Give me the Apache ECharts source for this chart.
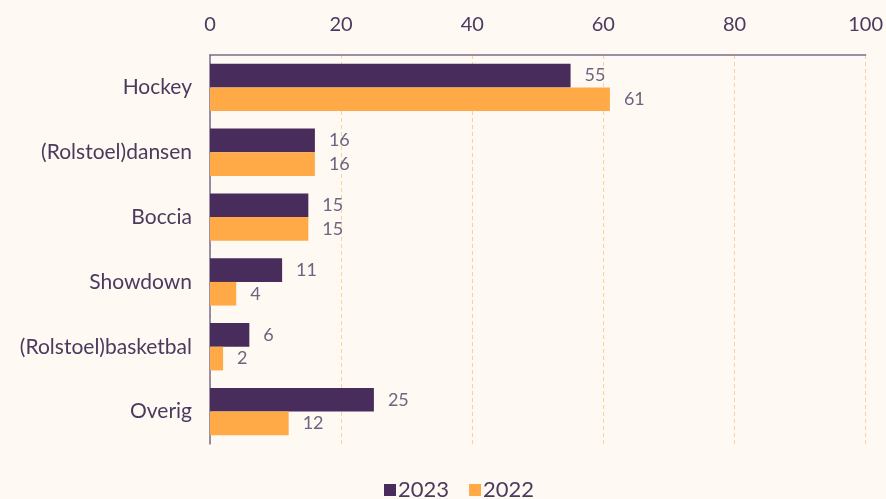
<!DOCTYPE html>
<html><head><meta charset="utf-8">
<script src="https://cdn.jsdelivr.net/npm/echarts@6/dist/echarts.min.js"></script>
<style>html,body{margin:0;padding:0;background:#FFF9F3;}#c{width:886px;height:499px;}</style>
</head><body><div id="c"></div>
<script>
var categories = ["Hockey", "(Rolstoel)dansen", "Boccia", "Showdown", "(Rolstoel)basketbal", "Overig"];
var values2023 = [55, 16, 15, 11, 6, 25];
var values2022 = [61, 16, 15, 4, 2, 12];
var seriesNames = ["2023", "2022"];

var chart = echarts.init(document.getElementById('c'));
var labelStyle = {show: true, position: 'right', distance: 14, color: '#6E6480', fontSize: 18, fontFamily: 'Lato'};
chart.setOption({
  backgroundColor: '#FFF9F3',
  animation: false,
  grid: {left: 210, right: 20, top: 55, bottom: 55, containLabel: false},
  legend: {
    bottom: -7, left: 379, itemWidth: 12, itemHeight: 12, itemGap: 20,
    icon: 'rect',
    textStyle: {color: '#4A3A5E', fontSize: 22, fontFamily: 'Lato', padding: [0,0,0,-3]},
    data: seriesNames
  },
  xAxis: {
    type: 'value', position: 'top', min: 0, max: 100, interval: 20,
    axisLine: {show: true, lineStyle: {color: '#7A6C8C', width: 1.5}},
    axisTick: {show: false},
    axisLabel: {color: '#4A3A5E', fontSize: 20, fontFamily: 'Lato', margin: 20},
    splitLine: {show: true, lineStyle: {color: '#F8D2A2', type: [4, 3], width: 1}}
  },
  yAxis: {
    type: 'category', inverse: true, data: categories,
    axisLine: {show: true, lineStyle: {color: '#7A6C8C', width: 1.5}},
    axisTick: {show: false},
    axisLabel: {color: '#4A3A5E', fontSize: 21, fontFamily: 'Lato', margin: 18}
  },
  series: [
    {name: seriesNames[0], type: 'bar', data: values2023, barGap: '0%', barCategoryGap: '27%',
     itemStyle: {color: '#472C5C'}, label: labelStyle},
    {name: seriesNames[1], type: 'bar', data: values2022, barGap: '0%', barCategoryGap: '27%',
     itemStyle: {color: '#FFAA47'}, label: labelStyle}
  ]
});
</script></body></html>
